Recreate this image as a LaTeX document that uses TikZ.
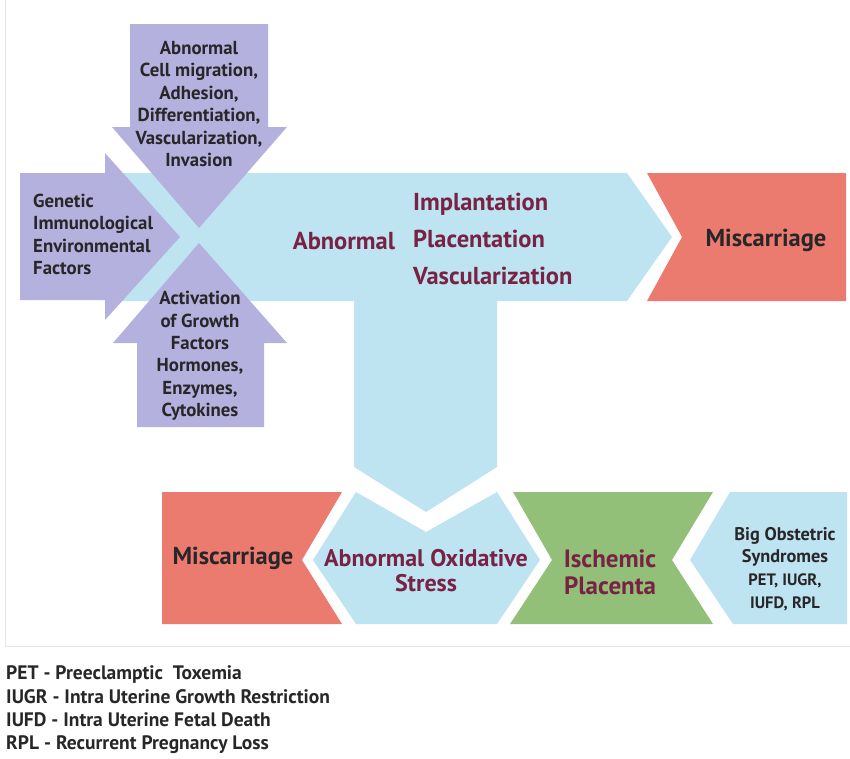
\documentclass[tikz,border=0pt]{standalone}
\usepackage{fontspec}
\setmainfont{PT Sans}

\definecolor{lav}{RGB}{180,177,222}
\definecolor{skyblue}{RGB}{190,227,241}
\definecolor{salmon}{RGB}{236,123,111}
\definecolor{leaf}{RGB}{146,192,120}
\definecolor{wine}{RGB}{120,34,68}
\definecolor{ink}{RGB}{40,38,40}
\definecolor{framegray}{RGB}{230,230,230}

\begin{document}
\begin{tikzpicture}[x=1pt,y=-1pt,
    dark/.style={text=ink,font=\bfseries\fontsize{18.8}{22.4}\selectfont,align=center,inner sep=0pt},
    maroon/.style={text=wine,font=\bfseries\fontsize{24.5}{25}\selectfont,align=center,inner sep=0pt}]

    \useasboundingbox (0,0) rectangle (850,758);

    % light frame
    \draw [framegray] (5,0) -- (5,646) -- (850,646);

    % big blue arrow with its stem
    \coordinate (tipr) at (672,237);
    \coordinate (tipd) at (426,512);
    \fill [skyblue] (105,173) -- (627,173) -- (tipr) -- (627,301) -- (497,301) -- (497,467)
        -- (tipd) -- (354,467) -- (354,301) -- (105,301) -- cycle;
    \fill [salmon] (647,173) -- (846,173) -- (846,301) -- (647,301) -- (682,237) -- cycle;

    % purple arrows
    \coordinate (ptop) at (199,228);
    \coordinate (pleft) at (180,237);
    \coordinate (pbot) at (199,243);
    \fill [lav] (130,24) -- (268,24) -- (268,127) -- (287,127) -- (ptop) -- (112,127) -- (130,127) -- cycle;
    \fill [lav] (20,173) -- (105,173) -- (105,153) -- (pleft) -- (105,320) -- (105,300) -- (20,300) -- cycle;
    \fill [lav] (137,427) -- (264,427) -- (264,343) -- (287,343) -- (pbot) -- (113,343) -- (137,343) -- cycle;

    % bottom row
    \fill [salmon] (162,492) -- (342,492) -- (302,560) -- (342,624) -- (162,624) -- cycle;
    \fill [skyblue] (356,492) -- (426,532) -- (497,492) -- (540,560) -- (497,624) -- (356,624) -- (313,560) -- cycle;
    \fill [leaf] (513,492) -- (713,492) -- (672,560) -- (713,624) -- (510,624) -- (552,560) -- cycle;
    \fill [skyblue] (730,492) -- (847,492) -- (847,624) -- (733,624) -- (690,560) -- cycle;

    % texts
    \node [dark] (cell) at (199,104) {Abnormal\\Cell migration,\\Adhesion,\\Differentiation,\\Vascularization,\\Invasion};
    \node [dark,align=left,anchor=west] (genetic) at (33,234.5) {Genetic\\Immunological\\Environmental\\Factors};
    \node [dark] (growth) at (200,356) {Activation\\of Growth\\Factors\\Hormones,\\Enzymes,\\Cytokines};

    \node [maroon] (abn) at (344,241) {Abnormal};
    \node [maroon,align=left,anchor=west,font=\bfseries\fontsize{24.5}{37}\selectfont] (impl) at (413,239)
        {Implantation\\Placentation\\Vascularization};
    \node [dark,font=\bfseries\fontsize{24.5}{25}\selectfont] (miscr) at (766,240) {Miscarriage};

    \node [dark,font=\bfseries\fontsize{24.5}{25}\selectfont] (miscb) at (233,558) {Miscarriage};
    \node [maroon,font=\bfseries\fontsize{24}{25}\selectfont] (oxid) at (426,570.5) {Abnormal Oxidative\\Stress};
    \node [maroon,font=\bfseries\fontsize{25}{27}\selectfont] (isch) at (610,572) {Ischemic\\Placenta};
    \node [dark,font=\bfseries\fontsize{18.3}{22.7}\selectfont] (big) at (785,569)
        {Big Obstetric\\Syndromes\\{\fontsize{16.5}{22.7}\selectfont PET, IUGR,}\\{\fontsize{16.5}{22.7}\selectfont IUFD, RPL}};

    % legend
    \node [dark,align=left,anchor=west,font=\bfseries\fontsize{19.5}{23.3}\selectfont] (legend) at (6,710)
        {PET - Preeclamptic\ \ Toxemia\\IUGR - Intra Uterine Growth Restriction\\IUFD - Intra Uterine Fetal Death\\RPL - Recurrent Pregnancy Loss};
\end{tikzpicture}
\end{document}
